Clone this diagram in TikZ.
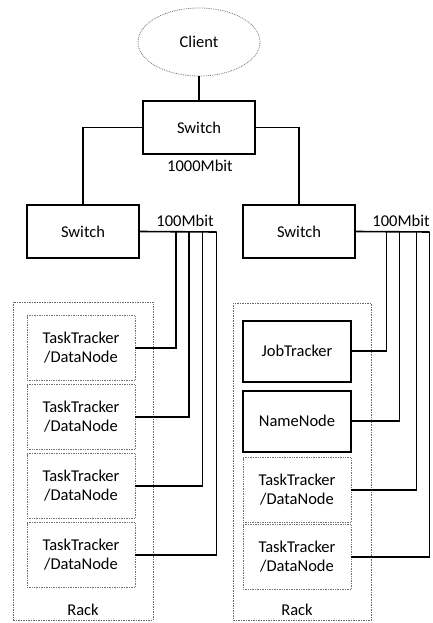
\documentclass[tikz,border=0pt]{standalone}
\usepackage{fontspec}
\setmainfont{Carlito}
\usetikzlibrary{shapes.geometric}
\begin{document}
\begin{tikzpicture}[x=1pt,y=-1pt,
  every node/.style={font=\fontsize{16.5}{19}\selectfont, align=center},
  switchbox/.style={draw, line width=2pt, minimum width=112pt, minimum height=53pt, inner sep=0pt},
  masterbox/.style={draw, line width=2pt, minimum width=108pt, minimum height=61pt, inner sep=0pt},
  workerbox/.style={draw=black!55, densely dotted, line width=0.7pt, minimum width=108pt, minimum height=65pt, inner sep=0pt},
  rackbox/.style={draw=black!60, dash pattern=on 1.5pt off 1pt, line width=0.8pt, inner sep=0pt},
  link/.style={line width=1.6pt}
]
\useasboundingbox (0,0) rectangle (432,623);

% client and core switch
\node[ellipse, draw=black!55, densely dotted, line width=0.8pt, minimum width=122pt, minimum height=68pt] (client) at (199,42) {Client};
\node[switchbox] (core) at (199,127.5) {Switch};
\node (gbit) at (200,166) {1000Mbit};

% rack switches
\node[switchbox] (lsw) at (83,231.5) {Switch};
\node[switchbox] (rsw) at (299,231.5) {Switch};
\node (lmb) at (185,221) {100Mbit};
\node (rmb) at (401,221) {100Mbit};

\draw[link] (client) -- (core);
\draw[link] (core.west) -| (lsw.north);
\draw[link] (core.east) -| (rsw.north);

% racks
\node[rackbox, minimum width=140pt, minimum height=318pt] (lrack) at (83,461) {};
\node[rackbox, minimum width=138pt, minimum height=317pt] (rrack) at (302,461.5) {};
\node (lracklbl) at (83,610) {Rack};
\node (rracklbl) at (297,610) {Rack};

% left rack machines
\node[workerbox] (l1) at (81,348) {TaskTracker\\/DataNode};
\node[workerbox] (l2) at (81,417) {TaskTracker\\/DataNode};
\node[workerbox] (l3) at (81,486) {TaskTracker\\/DataNode};
\node[workerbox] (l4) at (81,555) {TaskTracker\\/DataNode};

% right rack machines
\node[masterbox] (jt) at (297,351) {JobTracker};
\node[masterbox] (nn) at (297,421) {NameNode};
\node[workerbox] (r3) at (297,490) {TaskTracker\\/DataNode};
\node[workerbox] (r4) at (297,557) {TaskTracker\\/DataNode};

% uplink taps on the 100Mbit lines
\coordinate (lt1) at (176,232);
\coordinate (lt2) at (189,232);
\coordinate (lt3) at (202.5,232);
\coordinate (lt4) at (216.5,232);
\coordinate (rt1) at (386.5,232);
\coordinate (rt2) at (399.5,232);
\coordinate (rt3) at (416.5,232);
\coordinate (rt4) at (429.5,232);

\draw[link] (lsw.east) -- (lt4);
\draw[link] (rsw.east) -- (rt4);

\draw[link] (l1.east) -| (lt1);
\draw[link] (l2.east) -| (lt2);
\draw[link] (l3.east) -| (lt3);
\draw[link] (l4.east) -| (lt4);

\draw[link] (jt.east) -| (rt1);
\draw[link] (nn.east) -| (rt2);
\draw[link] (r3.east) -| (rt3);
\draw[link] (r4.east) -| (rt4);
\end{tikzpicture}
\end{document}
